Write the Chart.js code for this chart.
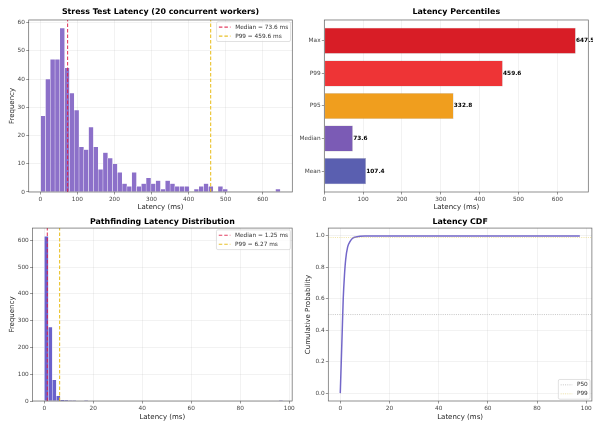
<!DOCTYPE html>
<html>
<head>
<meta charset="utf-8">
<script src="https://cdn.jsdelivr.net/npm/chart.js@4.4.1/dist/chart.umd.min.js"></script>
<style>
  html, body { margin: 0; padding: 0; background: #fff; }
  body { width: 593px; height: 423px; position: relative; overflow: hidden; }
  canvas { position: absolute; }
</style>
</head>
<body>
<canvas id="stress" width="296" height="212" style="left:0;top:0"></canvas>
<canvas id="pct" width="297" height="212" style="left:296px;top:0"></canvas>
<canvas id="path" width="296" height="211" style="left:0;top:212px"></canvas>
<canvas id="cdf" width="297" height="211" style="left:296px;top:212px"></canvas>
<script>
// ---- Stress test latency histogram (20 concurrent workers) ----
const stressMinMs = 1.0;
const stressMaxMs = 647.5;
const stressCounts = [27, 40, 47, 47, 58, 44, 35, 29, 16, 15,
                      23, 16, 8, 14, 12, 10, 7, 3, 2, 7,
                      2, 3, 5, 3, 4, 1, 4, 3, 2, 2,
                      2, 0, 1, 2, 3, 2, 0, 2, 1, 0,
                      0, 0, 0, 0, 0, 0, 0, 0, 0, 1];
const stressMedian = 73.6;
const stressP99 = 459.6;

// ---- Latency percentiles ----
const pctLabels = ['Mean', 'Median', 'P95', 'P99', 'Max'];
const pctValues = [107.4, 73.6, 332.8, 459.6, 647.5];
const pctColors = ['#5a5fb0', '#7b5bb5', '#f09e1e', '#ee3436', '#d81d26'];

// ---- Pathfinding latency histogram ----
const pathMinMs = 0.05;
const pathMaxMs = 97.4;
const pathCounts = [615, 276, 79, 19, 4, 2, 1, 1, 0, 0,
                    1, 0, 0, 0, 0, 0, 0, 0, 0, 0,
                    0, 0, 0, 0, 0, 0, 0, 0, 0, 0,
                    0, 0, 0, 0, 0, 0, 0, 0, 0, 0,
                    0, 0, 0, 0, 0, 0, 0, 0, 0, 0,
                    0, 0, 0, 0, 0, 0, 0, 0, 0, 1];
const pathMedian = 1.25;
const pathP99 = 6.27;

// ---- Latency CDF ----
const cdfLatency = [0, 0.4, 0.8, 1.2, 1.7, 2.2, 3.0, 4.0, 5.0, 6.0, 8.0, 10, 20, 40, 60, 80, 97.4];
const cdfProb    = [0, 0.2, 0.4, 0.6, 0.75, 0.85, 0.93, 0.965, 0.985, 0.992, 0.998, 1, 1, 1, 1, 1, 1];
const cdfLevels  = [0.5, 0.99];
const cdfLevelNames = ['P50', 'P99'];

// ---------------------------------------------------------------
Chart.defaults.font.family = '"DejaVu Sans", sans-serif';
Chart.defaults.font.size = 5.8;
Chart.defaults.color = '#444';
Chart.defaults.animation = false;

const FONT = '"DejaVu Sans", sans-serif';
const GRID = 'rgba(176,176,176,0.32)';
const MEDIAN_COLOR = 'rgba(222,30,70,0.85)';
const P99_COLOR = 'rgba(232,190,30,0.95)';

// frame, bar value labels and in-axes legend
function drawLegend(chart, cfg) {
  const ctx = chart.ctx, a = chart.chartArea, fs = cfg.fontSize;
  const items = chart.data.datasets.filter(d => d.label);
  ctx.font = fs + 'px ' + FONT;
  const tw = Math.max(...items.map(d => ctx.measureText(d.label).width));
  const pad = 0.4 * fs, handle = 2 * fs, hgap = 0.8 * fs, rowH = 1.05 * fs, rowGap = 0.5 * fs;
  const w = pad * 2 + handle + hgap + tw;
  const h = pad * 2 + items.length * rowH + (items.length - 1) * rowGap;
  const x = a.right - cfg.edge - w;
  const y = cfg.corner === 'lower' ? a.bottom - cfg.edge - h : a.top + cfg.edge;
  ctx.beginPath();
  ctx.roundRect(x, y, w, h, 1.5);
  ctx.fillStyle = 'rgba(255,255,255,0.8)';
  ctx.fill();
  ctx.strokeStyle = '#cccccc';
  ctx.lineWidth = 0.6;
  ctx.stroke();
  items.forEach((d, i) => {
    const cy = y + pad + rowH / 2 + i * (rowH + rowGap);
    ctx.beginPath();
    ctx.setLineDash(d.borderDash || []);
    ctx.strokeStyle = d.borderColor;
    ctx.lineWidth = d.borderWidth;
    ctx.moveTo(x + pad, cy);
    ctx.lineTo(x + pad + handle, cy);
    ctx.stroke();
    ctx.setLineDash([]);
    ctx.fillStyle = cfg.color;
    ctx.textAlign = 'left';
    ctx.textBaseline = 'middle';
    ctx.fillText(d.label, x + pad + handle + hgap, cy);
  });
}

const decorations = {
  id: 'decorations',
  afterDatasetsDraw(chart, args, opts) {
    const ctx = chart.ctx, a = chart.chartArea;
    ctx.save();
    if (opts.barValues) {
      const idx = opts.barValues.dataset;
      const meta = chart.getDatasetMeta(idx);
      const ds = chart.data.datasets[idx];
      ctx.font = 'bold 5.8px ' + FONT;
      ctx.fillStyle = '#000';
      ctx.textAlign = 'left';
      ctx.textBaseline = 'middle';
      meta.data.forEach((el, i) => ctx.fillText(ds.data[i].x.toFixed(1), el.x + 0.3, el.y));
    }
    ctx.strokeStyle = 'rgba(70,70,70,0.85)';
    ctx.lineWidth = 0.7;
    ctx.strokeRect(a.left, a.top, a.right - a.left, a.bottom - a.top);
    if (opts.legend) drawLegend(chart, opts.legend);
    ctx.restore();
  }
};
Chart.register(decorations);

function linAxis(o) {
  return {
    type: 'linear', min: o.min, max: o.max, offset: false,
    ticks: { stepSize: o.step, includeBounds: false, padding: 1.2, color: '#444',
             font: { size: 5.8 }, maxRotation: 0, autoSkip: false,
             callback: o.fmt || (v => String(v)) },
    grid: { display: true, drawOnChartArea: o.grid !== false, color: GRID, lineWidth: 0.5,
            tickLength: 2.5, tickColor: '#555', tickWidth: 0.6, offset: false },
    border: { display: false },
    title: o.title ? { display: true, text: o.title, color: '#222', font: { size: 7 }, padding: o.titlePad }
                   : { display: false },
    afterFit: o.fit
  };
}

function titleOpts(text, pad) {
  return { display: true, text, fullSize: false, color: '#000',
           font: { size: 7.9, weight: 'bold' }, padding: pad };
}

function vline(label, x, yMin, yMax, color) {
  return { type: 'line', label, data: [{ x, y: yMin }, { x, y: yMax }],
           borderColor: color, borderWidth: 1.1, borderDash: [3.5, 2],
           pointRadius: 0, order: 1 };
}

function binned(minMs, maxMs, counts) {
  const w = (maxMs - minMs) / counts.length;
  return counts.map((c, i) => ({ x: minMs + w * (i + 0.5), y: c }));
}

// ---- Stress test histogram ----
const stressYMax = Math.max(...stressCounts) * 1.05;
const stressPad = (stressMaxMs - stressMinMs) * 0.05;
new Chart('stress', {
  type: 'bar',
  data: {
    datasets: [
      vline('Median = ' + stressMedian.toFixed(1) + ' ms', stressMedian, 0, stressYMax, MEDIAN_COLOR),
      vline('P99 = ' + stressP99.toFixed(1) + ' ms', stressP99, 0, stressYMax, P99_COLOR),
      { type: 'bar', data: binned(stressMinMs, stressMaxMs, stressCounts),
        backgroundColor: '#8c70c9', borderColor: 'rgba(255,255,255,0.75)', borderWidth: 0.5,
        borderSkipped: false, barPercentage: 1, categoryPercentage: 1, order: 2 }
    ]
  },
  options: {
    responsive: false, animation: false,
    layout: { padding: { left: 0, right: 3.7, top: 0, bottom: 0 } },
    plugins: {
      legend: { display: false }, tooltip: { enabled: false },
      title: titleOpts('Stress Test Latency (20 concurrent workers)', { top: 7.3, bottom: 3.2 }),
      decorations: { legend: { fontSize: 5.8, edge: 1.8, corner: 'upper', color: '#333' } }
    },
    scales: {
      x: linAxis({ min: stressMinMs - stressPad, max: stressMaxMs + stressPad, step: 100,
                   title: 'Latency (ms)', titlePad: { top: 0, bottom: 1.1 }, fit: s => { s.height = 20; } }),
      y: linAxis({ min: 0, max: stressYMax, step: 10, title: 'Frequency',
                   titlePad: { top: 7.8, bottom: 0 }, fit: s => { s.width = 28.7; } })
    }
  }
});

// ---- Percentile bars ----
new Chart('pct', {
  type: 'bar',
  data: {
    datasets: [{
      data: pctValues.map((v, i) => ({ x: v, y: i })),
      backgroundColor: pctColors, borderColor: 'rgba(60,60,60,0.35)', borderWidth: 0.5,
      borderSkipped: false, barPercentage: 0.8, categoryPercentage: 1
    }]
  },
  options: {
    responsive: false, animation: false, indexAxis: 'y',
    layout: { padding: { left: 0, right: 4.7, top: 0, bottom: 0 } },
    plugins: {
      legend: { display: false }, tooltip: { enabled: false },
      title: titleOpts('Latency Percentiles', { top: 7.3, bottom: 3.2 }),
      decorations: { barValues: { dataset: 0 } }
    },
    scales: {
      x: linAxis({ min: 0, max: Math.max(...pctValues) * 1.05, step: 100,
                   title: 'Latency (ms)', titlePad: { top: 0, bottom: 1.1 }, fit: s => { s.height = 20; } }),
      y: linAxis({ min: -0.64, max: pctLabels.length - 1 + 0.64, step: 1, grid: false,
                   fmt: v => pctLabels[v] !== undefined ? pctLabels[v] : '',
                   fit: s => { s.width = 28.3; } })
    }
  }
});

// ---- Pathfinding histogram ----
const pathYMax = Math.max(...pathCounts) * 1.05;
new Chart('path', {
  type: 'bar',
  data: {
    datasets: [
      vline('Median = ' + pathMedian.toFixed(2) + ' ms', pathMedian, 0, pathYMax, MEDIAN_COLOR),
      vline('P99 = ' + pathP99.toFixed(2) + ' ms', pathP99, 0, pathYMax, P99_COLOR),
      { type: 'bar', data: binned(pathMinMs, pathMaxMs, pathCounts),
        backgroundColor: '#6a61cb', borderColor: 'rgba(255,255,255,0.75)', borderWidth: 0.5,
        borderSkipped: false, barPercentage: 1, categoryPercentage: 1, order: 2 }
    ]
  },
  options: {
    responsive: false, animation: false,
    layout: { padding: { left: 0, right: 2.5, top: 0, bottom: 0 } },
    plugins: {
      legend: { display: false }, tooltip: { enabled: false },
      title: titleOpts('Pathfinding Latency Distribution', { top: 5.6, bottom: 1.0 }),
      decorations: { legend: { fontSize: 5.8, edge: 1.8, corner: 'upper', color: '#333' } }
    },
    scales: {
      x: linAxis({ min: -4.8, max: 101.2, step: 20,
                   title: 'Latency (ms)', titlePad: { top: 0, bottom: 2.1 }, fit: s => { s.height = 22; } }),
      y: linAxis({ min: 0, max: pathYMax, step: 100, title: 'Frequency',
                   titlePad: { top: 7.8, bottom: 0 }, fit: s => { s.width = 32.5; } })
    }
  }
});

// ---- CDF ----
const cdfXMin = -4.87, cdfXMax = 102.3;
new Chart('cdf', {
  type: 'line',
  data: {
    datasets: [
      { data: cdfLatency.map((x, i) => ({ x, y: cdfProb[i] })),
        borderColor: '#7367c9', borderWidth: 1.5, pointRadius: 0,
        cubicInterpolationMode: 'monotone', order: 2 },
      ...cdfLevels.map((lv, i) => ({
        label: cdfLevelNames[i],
        data: [{ x: cdfXMin, y: lv }, { x: cdfXMax, y: lv }],
        borderColor: i === 0 ? 'rgba(150,150,150,0.6)' : 'rgba(225,200,80,0.55)',
        borderWidth: 0.9, borderDash: [1, 1.2], pointRadius: 0, order: 1
      }))
    ]
  },
  options: {
    responsive: false, animation: false,
    layout: { padding: { left: 0, right: 0.3, top: 0, bottom: 0 } },
    plugins: {
      legend: { display: false }, tooltip: { enabled: false },
      title: titleOpts('Latency CDF', { top: 5.6, bottom: 1.0 }),
      decorations: { legend: { fontSize: 5.8, edge: 1.8, corner: 'lower', color: '#333' } }
    },
    scales: {
      x: linAxis({ min: cdfXMin, max: cdfXMax, step: 20,
                   title: 'Latency (ms)', titlePad: { top: 0, bottom: 2.1 }, fit: s => { s.height = 22; } }),
      y: linAxis({ min: -0.05, max: 1.05, step: 0.2, fmt: v => v.toFixed(1),
                   title: 'Cumulative Probability', titlePad: { top: 7.8, bottom: 0 },
                   fit: s => { s.width = 32.3; } })
    }
  }
});
</script>
</body>
</html>
